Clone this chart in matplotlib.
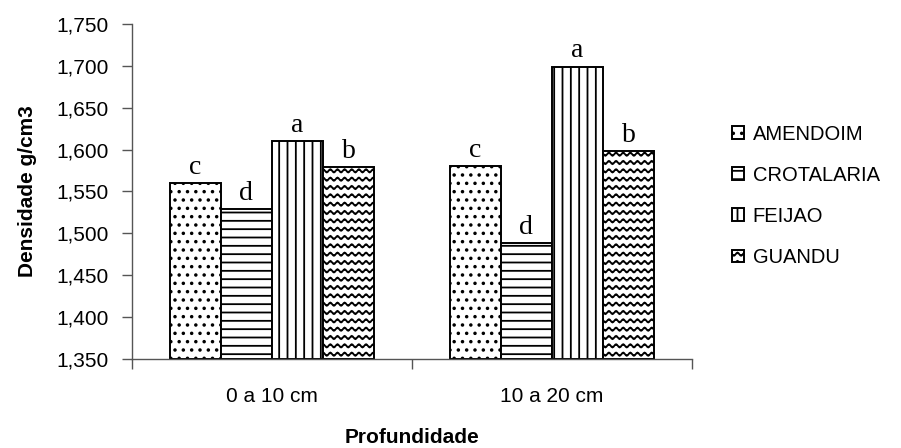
import warnings
import numpy as np
import matplotlib
matplotlib.use('Agg')
import matplotlib.pyplot as plt
import matplotlib.hatch as mhatch
from matplotlib.path import Path
from matplotlib.ticker import FuncFormatter, FixedLocator

warnings.filterwarnings('ignore')

# data
profundidade = ['0 a 10 cm', '10 a 20 cm']
culturas = ['AMENDOIM', 'CROTALARIA', 'FEIJAO', 'GUANDU']
amendoim = [1.560, 1.580]
crotalaria = [1.529, 1.488]
feijao = [1.610, 1.699]
guandu = [1.579, 1.598]
letras = [['c', 'c'], ['d', 'd'], ['a', 'a'], ['b', 'b']]


# wavy hatch, matplotlib has none
class WaveHatch(mhatch.HatchPatternBase):
    def __init__(self, hatch, density):
        self.num_lines = int(hatch.count('~') * density)
        self.npts = 14 * 8 + 1
        self.num_vertices = self.num_lines * self.npts

    def set_vertices_and_codes(self, vertices, codes):
        xs = np.linspace(0, 1, self.npts)
        ys = 0.016 * np.sin(2 * np.pi * 14 * xs)
        for i in range(self.num_lines):
            s = slice(i * self.npts, (i + 1) * self.npts)
            vertices[s, 0] = xs
            vertices[s, 1] = ys + (i + 0.5) / self.num_lines
            codes[s] = Path.LINETO
            codes[i * self.npts] = Path.MOVETO


mhatch._hatch_types.append(WaveHatch)

plt.rcParams['font.family'] = 'Liberation Sans'
plt.rcParams['hatch.linewidth'] = 1.3

fig = plt.figure(figsize=(9.01, 4.48), dpi=100)
ax = fig.add_axes([0.1465, 0.1987, 0.6215, 0.7477])

series = [amendoim, crotalaria, feijao, guandu]
hatches = ['..', '--', '||', '~~']
w = 0.183
x = np.arange(len(profundidade))
for i, (vals, h) in enumerate(zip(series, hatches)):
    pos = x + (i - 1.5) * w
    ax.bar(pos, np.array(vals) - 1.35, w, bottom=1.35, color='white',
           edgecolor='black', linewidth=1.4, hatch=h, label=culturas[i])
    for p, v, l in zip(pos, vals, letras[i]):
        ax.text(p, v + 0.004, l, ha='center', va='bottom',
                family='Liberation Serif', fontsize=20)

ax.set_xlim(-0.5, 1.5)
ax.set_ylim(1.35, 1.75)
ax.set_yticks(np.arange(1.35, 1.7501, 0.05))
ax.yaxis.set_major_formatter(FuncFormatter(lambda v, p: f'{v:.3f}'.replace('.', ',')))
ax.set_xticks(x)
ax.set_xticklabels(profundidade)
ax.xaxis.set_minor_locator(FixedLocator([-0.5, 0.5, 1.5]))
ax.tick_params(axis='x', which='major', length=0, pad=20, labelsize=15)
ax.tick_params(axis='x', which='minor', length=7, width=1, color='#555555')
ax.tick_params(axis='y', length=7, width=1, color='#555555', pad=10, labelsize=15)

for s in ['top', 'right']:
    ax.spines[s].set_visible(False)
for s in ['left', 'bottom']:
    ax.spines[s].set_color('#555555')
    ax.spines[s].set_linewidth(1)

ax.set_ylabel('Densidade g/cm3', fontsize=15, fontweight='bold', labelpad=14)
ax.set_xlabel('Profundidade', fontsize=15, fontweight='bold', labelpad=16)

fig.legend(loc='upper left', bbox_to_anchor=(0.803, 0.74), frameon=False,
           fontsize=14.5, handlelength=0.6, handleheight=0.6,
           handletextpad=0.45, labelspacing=1.1, borderaxespad=0)

fig.savefig('out.png', dpi=100)
